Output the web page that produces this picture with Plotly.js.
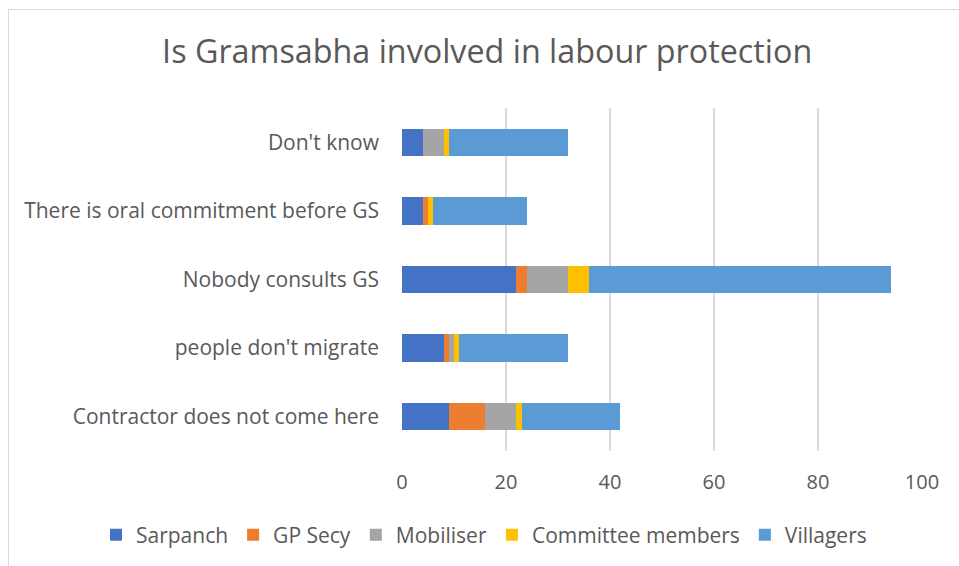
<!DOCTYPE html>
<html>
<head>
<meta charset="utf-8">
<script src="https://cdn.plot.ly/plotly-3.0.1.min.js"></script>
<style>
html,body{margin:0;padding:0;background:#fff;}
#frame{position:absolute;left:8px;top:9px;width:960px;height:570px;border:1.5px solid #d9d9d9;box-sizing:border-box;}
#chart{position:absolute;left:0;top:0;width:959px;height:566px;}
</style>
</head>
<body>
<div id="frame"></div>
<div id="chart"></div>
<script>
const categories = ["Contractor does not come here", "people don't migrate", "Nobody consults GS", "There is oral commitment before GS", "Don't know"];
const sarpanch = [9, 8, 22, 4, 4];
const gpSecy = [7, 1, 2, 1, 0];
const mobiliser = [6, 1, 8, 0, 4];
const committee = [1, 1, 4, 1, 1];
const villagers = [19, 21, 58, 18, 23];
const seriesNames = ["Sarpanch", "GP Secy", "Mobiliser", "Committee members", "Villagers"];
const seriesColors = ["#4472C4", "#ED7D31", "#A5A5A5", "#FFC000", "#5B9BD5"];
const xTicks = [0, 20, 40, 60, 80, 100];

const allSeries = [sarpanch, gpSecy, mobiliser, committee, villagers];
const traces = allSeries.map((vals, i) => ({
  type: 'bar',
  orientation: 'h',
  name: seriesNames[i],
  y: categories,
  x: vals,
  marker: {color: seriesColors[i]},
  hoverinfo: 'x+y+name'
}));

const font = {family: '"Open Sans", "Liberation Sans", sans-serif', color: '#595959'};

const layout = {
  width: 959, height: 566,
  barmode: 'stack',
  bargap: 0.6,
  paper_bgcolor: 'rgba(0,0,0,0)',
  plot_bgcolor: 'rgba(0,0,0,0)',
  margin: {l: 402, r: 37, t: 108, b: 114},
  font: Object.assign({size: 20}, font),
  title: {
    text: 'Is Gramsabha involved in labour protection',
    font: Object.assign({}, font, {size: 32.3}),
    x: 0.508, xanchor: 'center', xref: 'container',
    y: 0.908, yanchor: 'middle', yref: 'container'
  },
  xaxis: {
    range: [0, 100],
    tickvals: xTicks,
    ticktext: xTicks.map(String),
    showgrid: true, gridcolor: '#d9d9d9', gridwidth: 1.5,
    zeroline: false,
    showline: false,
    ticks: '',
    ticklabelstandoff: 17,
    tickfont: Object.assign({}, font, {size: 20}),
    fixedrange: true
  },
  yaxis: {
    type: 'category',
    categoryorder: 'array', categoryarray: categories,
    showgrid: false, zeroline: false, showline: false,
    ticks: '',
    ticklabelstandoff: 22,
    tickfont: Object.assign({}, font, {size: 21}),
    fixedrange: true
  },
  showlegend: true,
  legend: {
    orientation: 'h',
    x: (96 - 402) / 520, xanchor: 'left',
    y: (452 - 535) / 344, yanchor: 'middle',
    font: Object.assign({}, font, {size: 21}),
    traceorder: 'normal',
    itemwidth: 30
  }
};

Plotly.newPlot('chart', traces, layout, {displayModeBar: false, staticPlot: true});
</script>
</body>
</html>
